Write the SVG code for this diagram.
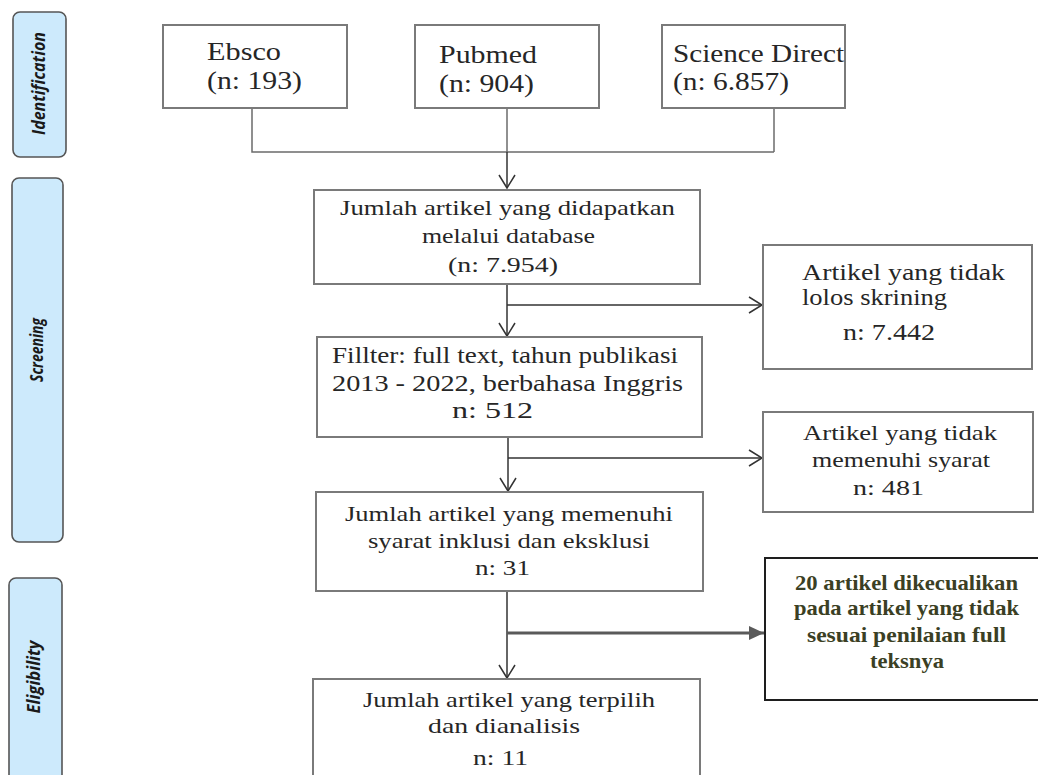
<svg xmlns="http://www.w3.org/2000/svg" width="1038" height="775" viewBox="0 0 1038 775">
<style>
.bg{fill:#ffffff}
.box{fill:#ffffff;stroke:#7a7a7a;stroke-width:2}
.boxd{fill:#ffffff;stroke:#1e1e1e;stroke-width:2}
.side{fill:#cdeafc;stroke:#555555;stroke-width:1.6}
.t{font-family:"Liberation Serif","Times New Roman",serif;fill:#262626}
.tb{font-family:"Liberation Serif","Times New Roman",serif;font-weight:bold;fill:#3b3f24;font-size:22px}
.s{font-family:"Liberation Sans Narrow","Open Sans","Liberation Sans",sans-serif;font-style:italic;font-weight:bold;font-size:18px;fill:#1a1a1a}
.c{fill:none;stroke:#6b6b6b;stroke-width:1.5}
.a{fill:none;stroke:#333333;stroke-width:1.5}
.ab{fill:none;stroke:#5a5a5a;stroke-width:3}
</style>
<defs>
<marker id="open" markerUnits="userSpaceOnUse" markerWidth="18" markerHeight="18" viewBox="0 0 18 18" refX="15" refY="9" orient="auto">
<path d="M2,1 L15,9 L2,17" fill="none" stroke="#333333" stroke-width="1.5"/>
</marker>
<marker id="solid" markerUnits="userSpaceOnUse" markerWidth="16" markerHeight="16" viewBox="0 0 16 16" refX="15" refY="8" orient="auto">
<polygon points="0,1 15,8 0,15" fill="#5a5a5a"/>
</marker>
</defs>
<rect class="bg" x="0" y="0" width="1038" height="775"/>

<g id="phase-identification">
<rect class="side" x="13" y="12" width="53" height="145" rx="7"/>
<text class="s" transform="translate(45,83.5) rotate(-90)" x="-51.5" y="0" textLength="103" lengthAdjust="spacingAndGlyphs">Identification</text>
</g>
<g id="phase-screening">
<rect class="side" x="12" y="178" width="51" height="364" rx="7"/>
<text class="s" transform="translate(43,350) rotate(-90)" x="-32" y="0" textLength="64" lengthAdjust="spacingAndGlyphs">Screening</text>
</g>
<g id="phase-eligibility">
<rect class="side" x="9" y="578" width="53" height="215" rx="7"/>
<text class="s" transform="translate(40,677) rotate(-90)" x="-36.5" y="0" textLength="73" lengthAdjust="spacingAndGlyphs">Eligibility</text>
</g>

<g id="connectors">
<polyline class="c" points="252,108 252,152 774,152"/>
<line class="c" x1="774" y1="108" x2="774" y2="152"/>
<line class="c" x1="507" y1="108" x2="507" y2="152"/>
<line class="a" x1="507" y1="152" x2="507" y2="188" marker-end="url(#open)"/>
<line class="a" x1="507" y1="284" x2="507" y2="336" marker-end="url(#open)"/>
<line class="a" x1="507" y1="305" x2="762" y2="305" marker-end="url(#open)"/>
<line class="a" x1="508" y1="437" x2="508" y2="491" marker-end="url(#open)"/>
<line class="a" x1="508" y1="458" x2="762" y2="458" marker-end="url(#open)"/>
<line class="a" x1="507" y1="591" x2="507" y2="678" marker-end="url(#open)"/>
<line class="ab" x1="507" y1="633" x2="764" y2="633" marker-end="url(#solid)"/>
</g>

<g id="ebsco">
<rect class="box" x="163" y="25" width="184" height="83"/>
<text class="t" font-size="26" x="207" y="60" textLength="74" lengthAdjust="spacingAndGlyphs">Ebsco</text>
<text class="t" font-size="26" x="207" y="89" textLength="95" lengthAdjust="spacingAndGlyphs">(n: 193)</text>
</g>
<g id="pubmed">
<rect class="box" x="415" y="25" width="184" height="83"/>
<text class="t" font-size="26" x="439" y="63" textLength="98" lengthAdjust="spacingAndGlyphs">Pubmed</text>
<text class="t" font-size="26" x="439" y="92" textLength="95" lengthAdjust="spacingAndGlyphs">(n: 904)</text>
</g>
<g id="sciencedirect">
<rect class="box" x="662" y="25" width="183" height="83"/>
<text class="t" font-size="26" x="673" y="62" textLength="171" lengthAdjust="spacingAndGlyphs">Science Direct</text>
<text class="t" font-size="26" x="673" y="90" textLength="116" lengthAdjust="spacingAndGlyphs">(n: 6.857)</text>
</g>

<g id="database">
<rect class="box" x="314" y="190" width="386" height="94"/>
<text class="t" font-size="22" x="340" y="215" textLength="335" lengthAdjust="spacingAndGlyphs">Jumlah artikel yang didapatkan</text>
<text class="t" font-size="22" x="422" y="243" textLength="173" lengthAdjust="spacingAndGlyphs">melalui database</text>
<text class="t" font-size="22" x="448" y="272" textLength="110" lengthAdjust="spacingAndGlyphs">(n: 7.954)</text>
</g>
<g id="filter">
<rect class="box" x="317" y="337" width="385" height="100"/>
<text class="t" font-size="23" x="332" y="363" textLength="346" lengthAdjust="spacingAndGlyphs">Fillter: full text, tahun publikasi</text>
<text class="t" font-size="23" x="332" y="391" textLength="351" lengthAdjust="spacingAndGlyphs">2013 - 2022, berbahasa Inggris</text>
<text class="t" font-size="23" x="452" y="418" textLength="81" lengthAdjust="spacingAndGlyphs">n: 512</text>
</g>
<g id="excluded-screening">
<rect class="box" x="763" y="245" width="269" height="124"/>
<text class="t" font-size="24" x="802" y="280" textLength="203" lengthAdjust="spacingAndGlyphs">Artikel yang tidak</text>
<text class="t" font-size="24" x="802" y="305" textLength="145" lengthAdjust="spacingAndGlyphs">lolos skrining</text>
<text class="t" font-size="24" x="843" y="340" textLength="92" lengthAdjust="spacingAndGlyphs">n: 7.442</text>
</g>
<g id="excluded-criteria">
<rect class="box" x="763" y="412" width="270" height="100"/>
<text class="t" font-size="22" x="803" y="440" textLength="194" lengthAdjust="spacingAndGlyphs">Artikel yang tidak</text>
<text class="t" font-size="22" x="812" y="467" textLength="178" lengthAdjust="spacingAndGlyphs">memenuhi syarat</text>
<text class="t" font-size="22" x="853" y="495" textLength="71" lengthAdjust="spacingAndGlyphs">n: 481</text>
</g>
<g id="eligible">
<rect class="box" x="316" y="492" width="387" height="99"/>
<text class="t" font-size="22" x="345" y="521" textLength="328" lengthAdjust="spacingAndGlyphs">Jumlah artikel yang memenuhi</text>
<text class="t" font-size="22" x="368" y="548" textLength="282" lengthAdjust="spacingAndGlyphs">syarat inklusi dan eksklusi</text>
<text class="t" font-size="22" x="475" y="575" textLength="55" lengthAdjust="spacingAndGlyphs">n: 31</text>
</g>
<g id="excluded-fulltext">
<rect class="boxd" x="765" y="558" width="280" height="142"/>
<text class="tb" x="795" y="590" textLength="223" lengthAdjust="spacingAndGlyphs">20 artikel dikecualikan</text>
<text class="tb" x="794" y="615" textLength="225" lengthAdjust="spacingAndGlyphs">pada artikel yang tidak</text>
<text class="tb" x="807" y="642" textLength="199" lengthAdjust="spacingAndGlyphs">sesuai penilaian full</text>
<text class="tb" x="870" y="668" textLength="74" lengthAdjust="spacingAndGlyphs">teksnya</text>
</g>
<g id="included">
<rect class="box" x="313" y="679" width="387" height="111"/>
<text class="t" font-size="22" x="363" y="707" textLength="292" lengthAdjust="spacingAndGlyphs">Jumlah artikel yang terpilih</text>
<text class="t" font-size="22" x="428" y="733" textLength="152" lengthAdjust="spacingAndGlyphs">dan dianalisis</text>
<text class="t" font-size="22" x="473" y="765" textLength="55" lengthAdjust="spacingAndGlyphs">n: 11</text>
</g>
</svg>
